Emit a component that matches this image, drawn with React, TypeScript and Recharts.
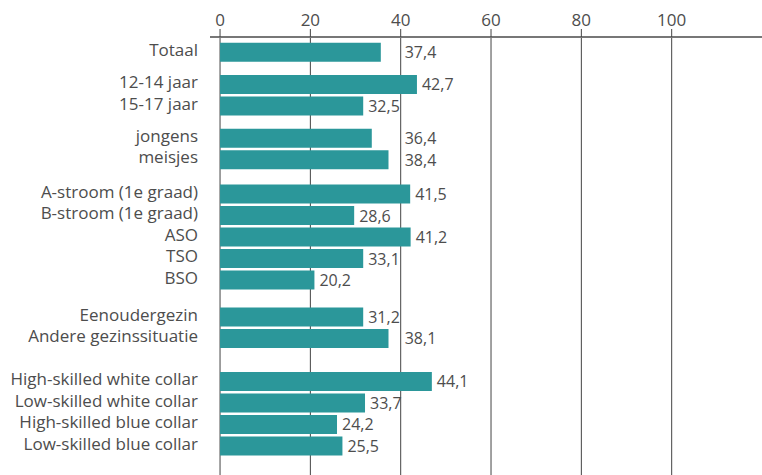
import React from 'react';
import { BarChart, Bar, XAxis, YAxis, LabelList, CartesianGrid } from 'recharts';

// Category labels, in display order
const categories = [
  'Totaal',
  '12-14 jaar', '15-17 jaar',
  'jongens', 'meisjes',
  'A-stroom (1e graad)', 'B-stroom (1e graad)', 'ASO', 'TSO', 'BSO',
  'Eenoudergezin', 'Andere gezinssituatie',
  'High-skilled white collar', 'Low-skilled white collar', 'High-skilled blue collar', 'Low-skilled blue collar',
];

// Number of categories in each visual group
const groupSizes = [1, 2, 2, 5, 2, 4];

// Bar lengths as drawn in the picture
const barValues = [35.6, 43.6, 31.7, 33.6, 37.3, 42.1, 29.7, 42.2, 31.7, 20.9, 31.7, 37.3, 46.9, 32.1, 25.9, 27.1];

// Printed value labels
const valueLabels = ['37,4', '42,7', '32,5', '36,4', '38,4', '41,5', '28,6', '41,2', '33,1', '20,2', '31,2', '38,1', '44,1', '33,7', '24,2', '25,5'];

const xTicks = [0, 20, 40, 60, 80, 100];

// layout: value-axis domain and extra spacing (in row units) before each group
const X_DOMAIN: [number, number] = [-20 / 9, 120];
const GROUP_GAPS = [0, 0.5, 0.5, 0.6, 0.72, 1.0];

const rows: { pos: number; name: string; value: number; label: string }[] = [];
{
  let i = 0;
  let pos = 0;
  groupSizes.forEach((size, g) => {
    pos += GROUP_GAPS[g];
    for (let k = 0; k < size; k++) {
      rows.push({ pos, name: categories[i], value: barValues[i], label: valueLabels[i] });
      i++;
      pos += 1;
    }
  });
}
const positions = rows.map((r) => r.pos);
const lastPos = positions[positions.length - 1];

const FONT = '"Open Sans", "Noto Sans", sans-serif';
const TEXT = '#4d4d4d';
const BAR = '#2B979A';
const FS = 17;
const FS_VAL = 16;

const CategoryTick = (props: any) => {
  const { x, y, payload } = props;
  const row = rows.find((r) => Math.abs(r.pos - payload.value) < 1e-6);
  return (
    <text x={x} y={y - 3} textAnchor="end" dominantBaseline="central" fill={TEXT} fontSize={FS} fontFamily={FONT}>
      {row ? row.name : ''}
    </text>
  );
};

const ValueLabel = (props: any) => {
  const { x, y, width, height, value, index } = props;
  const v = barValues[index];
  const end = x + width;
  const grid40 = x + (width * 40) / v;
  const tw = String(value).length * 6.8;
  let lx = end + 5;
  if (lx < grid40 && lx + tw > grid40 + 1) lx = grid40 + 4;
  return (
    <text x={lx} y={y + height / 2} textAnchor="start" dominantBaseline="central" fill={TEXT} fontSize={FS_VAL} fontFamily={FONT}>
      {value}
    </text>
  );
};

// grid x positions from the value scale (linear map of the domain onto the plot area)
const gridX = (p: any) => {
  const off = p?.offset;
  if (!off) return [];
  const [d0, d1] = X_DOMAIN;
  return xTicks.map((t) => off.left + ((t - d0) / (d1 - d0)) * off.width);
};

export default function App() {
  return (
    <div style={{ position: 'absolute', left: 0, top: 0, width: 762, height: 475, background: '#fff' }}>
      <BarChart
        width={762}
        height={475}
        layout="vertical"
        data={rows}
        margin={{ top: 0, right: 0, bottom: 0, left: 0 }}
        style={{ fontFamily: FONT }}
      >
        <CartesianGrid horizontal={false} vertical stroke="#444" strokeWidth={1} verticalCoordinatesGenerator={gridX} />
        <XAxis
          type="number"
          orientation="top"
          domain={X_DOMAIN}
          ticks={xTicks}
          allowDataOverflow
          height={37}
          tickSize={8}
          tickMargin={3}
          tickLine={{ stroke: '#444' }}
          axisLine={{ stroke: '#777', strokeWidth: 2 }}
          tick={{ fill: TEXT, fontSize: FS, fontFamily: FONT }}
          interval={0}
        />
        <YAxis
          type="number"
          dataKey="pos"
          domain={[-0.72, lastPos + 1.34]}
          allowDataOverflow
          ticks={positions}
          interval={0}
          width={210}
          tickSize={0}
          tickMargin={12}
          axisLine={false}
          tickLine={false}
          tick={<CategoryTick />}
        />
        <Bar dataKey="value" fill={BAR} barSize={19} isAnimationActive={false}>
          <LabelList dataKey="label" content={<ValueLabel />} />
        </Bar>
      </BarChart>
    </div>
  );
}
